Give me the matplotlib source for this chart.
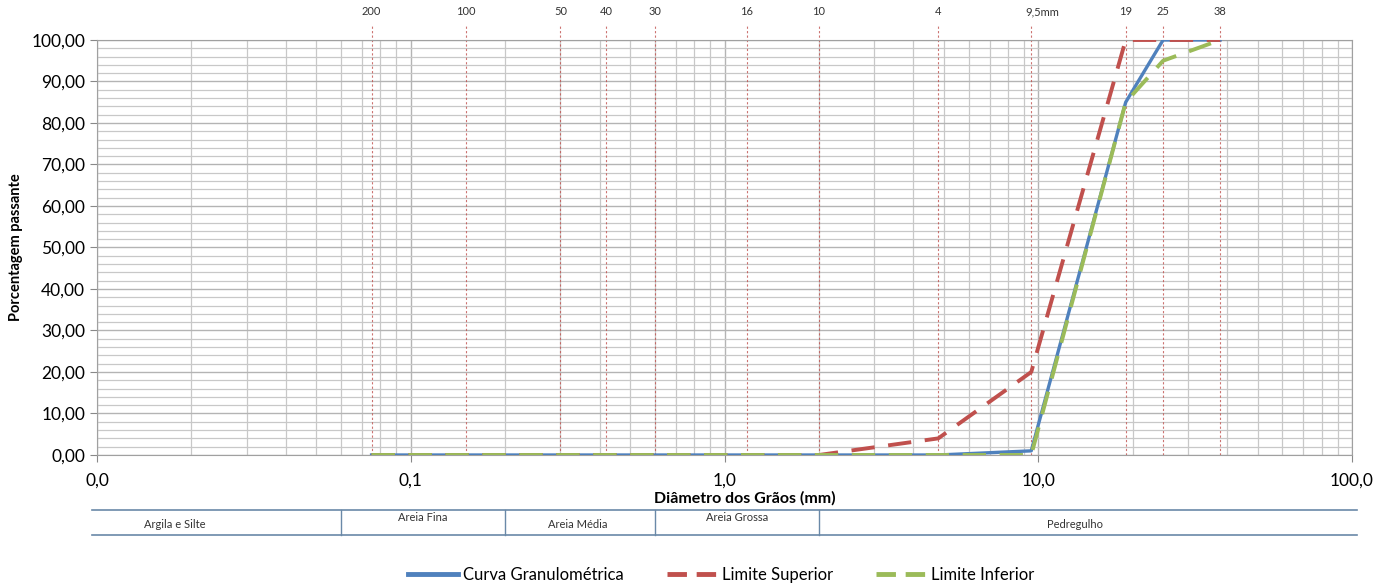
import numpy as np
import matplotlib
matplotlib.use("Agg")
import matplotlib.pyplot as plt
from matplotlib.lines import Line2D
from matplotlib.ticker import FixedLocator, NullFormatter

plt.rcParams['font.family'] = ['Lato', 'DejaVu Sans']

# Sieve openings (mm) and their labels
sieve_mm = [0.075, 0.15, 0.3, 0.42, 0.6, 1.18, 2.0, 4.8, 9.5, 19, 25, 38]
sieve_lbl = ['200', '100', '50', '40', '30', '16', '10', '4', '9,5mm', '19', '25', '38']

# Percent passing
curva = [0, 0, 0, 0, 0, 0, 0, 0, 1, 85, 100, 100]
lim_sup = [0, 0, 0, 0, 0, 0, 0, 4, 20, 100, 100, 100]
lim_inf = [0, 0, 0, 0, 0, 0, 0, 0, 0, 85, 95, 100]

# Soil fraction table under the x axis
frac_bounds = [0.06, 0.2, 0.6, 2.0]
frac_names = ['Argila e Silte', 'Areia Fina', 'Areia Média', 'Areia Grossa', 'Pedregulho']
frac_text_x = [175, 423, 578, 737, 1075]   # pixel centres of the labels
frac_text_dy = [-0.004, 0.008, -0.004, 0.008, -0.004]

blue = '#4f81bd'
red = '#c0504d'
green = '#9bbb59'
grid_c = '#c8c8c8'

W, H = 1400, 588
fig = plt.figure(figsize=(14, 5.88), dpi=100)
ax_l, ax_w = 0.0693, 0.8964
ax = fig.add_axes([ax_l, 0.2262, ax_w, 0.7058])

ax.set_xscale('log')
ax.set_xlim(0.01, 100)
ax.set_ylim(0, 100)

# grid
minor_x = [m * 10.0 ** e for e in range(-2, 2) for m in range(2, 10)]
ax.xaxis.set_minor_locator(FixedLocator(minor_x))
ax.xaxis.set_minor_formatter(NullFormatter())
ax.set_xticks([0.01, 0.1, 1, 10, 100])
ax.set_xticklabels(['0,0', '0,1', '1,0', '10,0', '100,0'])
ax.set_yticks(np.arange(0, 101, 10))
ax.set_yticklabels(['%d,00' % v for v in range(0, 101, 10)])
ax.yaxis.set_minor_locator(FixedLocator(np.arange(0, 101, 2)))
ax.grid(True, which='major', color='#b4b4b4', linewidth=1.0)
ax.grid(True, which='minor', color=grid_c, linewidth=0.9)
ax.set_axisbelow(True)
ax.tick_params(axis='x', which='major', length=5, pad=8, labelsize=12.5, color='#888888')
ax.tick_params(axis='x', which='minor', length=0)
ax.tick_params(axis='y', which='major', length=5, labelsize=12.5, color='#888888')
ax.tick_params(axis='y', which='minor', length=0)
for s in ax.spines.values():
    s.set_color('#a0a0a0')

# sieve lines
for d, lb in zip(sieve_mm, sieve_lbl):
    ax.axvline(d, ymin=0, ymax=1.036, color=red, linestyle=(0, (2, 2)), linewidth=0.8,
               alpha=0.8, clip_on=False, zorder=2)
    dx = 8 if lb == '9,5mm' else 0
    ax.annotate(lb, (d, 1.055), xycoords=('data', 'axes fraction'), xytext=(dx, 0),
                textcoords='offset points', ha='center', va='bottom', fontsize=8,
                color='#333333')

ax.plot(sieve_mm, curva, color=blue, linewidth=2.4, zorder=3, label='Curva Granulométrica')
ax.plot(sieve_mm, lim_sup, color=red, linewidth=2.8, linestyle=(0, (6, 3.5)), zorder=4,
        label='Limite Superior')
ax.plot(sieve_mm, lim_inf, color=green, linewidth=2.8, linestyle=(0, (6, 3.5)), zorder=5,
        label='Limite Inferior')

ax.set_ylabel('Porcentagem passante', fontsize=10.5, fontweight='bold', labelpad=6)
fig.text(0.532, 1 - 498 / H, 'Diâmetro dos Grãos (mm)', ha='center', va='center',
         fontsize=11.5, fontweight='bold')

# fraction table
tab_c = '#6a89a8'
x0, x1 = 92 / W, 1357 / W
ytop, ybot = 1 - 510 / H, 1 - 535 / H
fig.add_artist(Line2D([x0, x1], [ytop, ytop], color=tab_c, linewidth=1.2))
fig.add_artist(Line2D([x0, x1], [ybot, ybot], color=tab_c, linewidth=1.2))


def fx(d):
    return ax_l + ax_w * (np.log10(d) + 2) / 4


for b in frac_bounds:
    fig.add_artist(Line2D([fx(b), fx(b)], [ybot, ytop], color=tab_c, linewidth=1.0))
for nm, tx, dy in zip(frac_names, frac_text_x, frac_text_dy):
    fig.text(tx / W, (ytop + ybot) / 2 + dy, nm, ha='center', va='center',
             fontsize=8, color='#333333')

# legend
h1 = Line2D([], [], color=blue, linewidth=3.5)
h2 = Line2D([], [], color=red, linewidth=3.5, linestyle=(0, (4, 2)))
h3 = Line2D([], [], color=green, linewidth=3.5, linestyle=(0, (4, 2)))
fig.legend([h1, h2, h3], ['Curva Granulométrica', 'Limite Superior', 'Limite Inferior'],
           loc='center', bbox_to_anchor=(0.515, 0.022), ncol=3, frameon=False,
           fontsize=12, handlelength=3.0, columnspacing=2.6, handletextpad=0.3)

fig.savefig('out.png', dpi=100)
